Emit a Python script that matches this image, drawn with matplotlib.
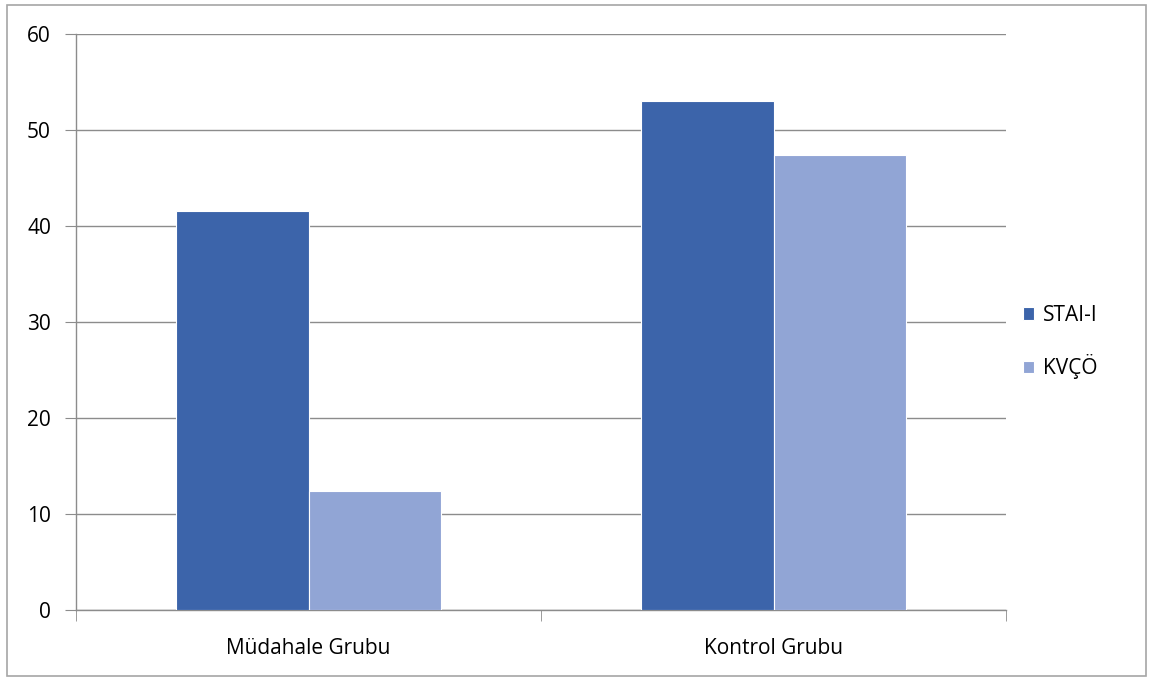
import numpy as np
import matplotlib.pyplot as plt
from matplotlib.patches import Rectangle

groups = ['Müdahale Grubu', 'Kontrol Grubu']
series = ['STAI-I', 'KVÇÖ']
stai = [41.6, 53.0]
kvco = [12.4, 47.4]
yticks = [0, 10, 20, 30, 40, 50, 60]

colors = ['#3C64AA', '#91A5D5']
grid_c = '#8C8C8C'

plt.rcParams['font.family'] = ['Open Sans', 'DejaVu Sans']

fig = plt.figure(figsize=(11.52, 6.78), dpi=100)
ax = fig.add_axes([76 / 1152, 1 - 610 / 678, 930 / 1152, 576 / 678])

# outer chart frame
fig.patches.append(Rectangle((7 / 1152, 1 - 676 / 678), 1139 / 1152, 671 / 678,
                             transform=fig.transFigure, fill=False,
                             edgecolor='#A6A6A6', linewidth=1.2))

x = np.arange(len(groups))
w = 0.284
ax.bar(x - w / 2, stai, w, color=colors[0], edgecolor='white', linewidth=0.8,
       label=series[0], zorder=3)
ax.bar(x + w / 2, kvco, w, color=colors[1], edgecolor='white', linewidth=0.8,
       label=series[1], zorder=3)

ax.set_xlim(-0.5, 1.5)
ax.set_ylim(0, 60)
ax.set_yticks(yticks)
ax.set_xticks(x)
ax.set_xticklabels(groups)
ax.set_xticks([-0.5, 0.5, 1.5], minor=True)
ax.yaxis.grid(True, color=grid_c, linewidth=1, zorder=0)

for s in ['top', 'right']:
    ax.spines[s].set_visible(False)
for s in ['left', 'bottom']:
    ax.spines[s].set_color(grid_c)
    ax.spines[s].set_linewidth(1)

ax.tick_params(axis='y', length=8, color=grid_c, labelsize=15, pad=10)
ax.tick_params(axis='x', which='major', length=0, labelsize=15, pad=20)
ax.tick_params(axis='x', which='minor', length=8, color=grid_c)

leg = ax.legend(loc='center left', bbox_to_anchor=(0.998, 0.465), frameon=False,
                fontsize=15, handlelength=0.55, handleheight=0.55,
                handletextpad=0.4, labelspacing=1.35)

plt.savefig('out.png', dpi=100)
